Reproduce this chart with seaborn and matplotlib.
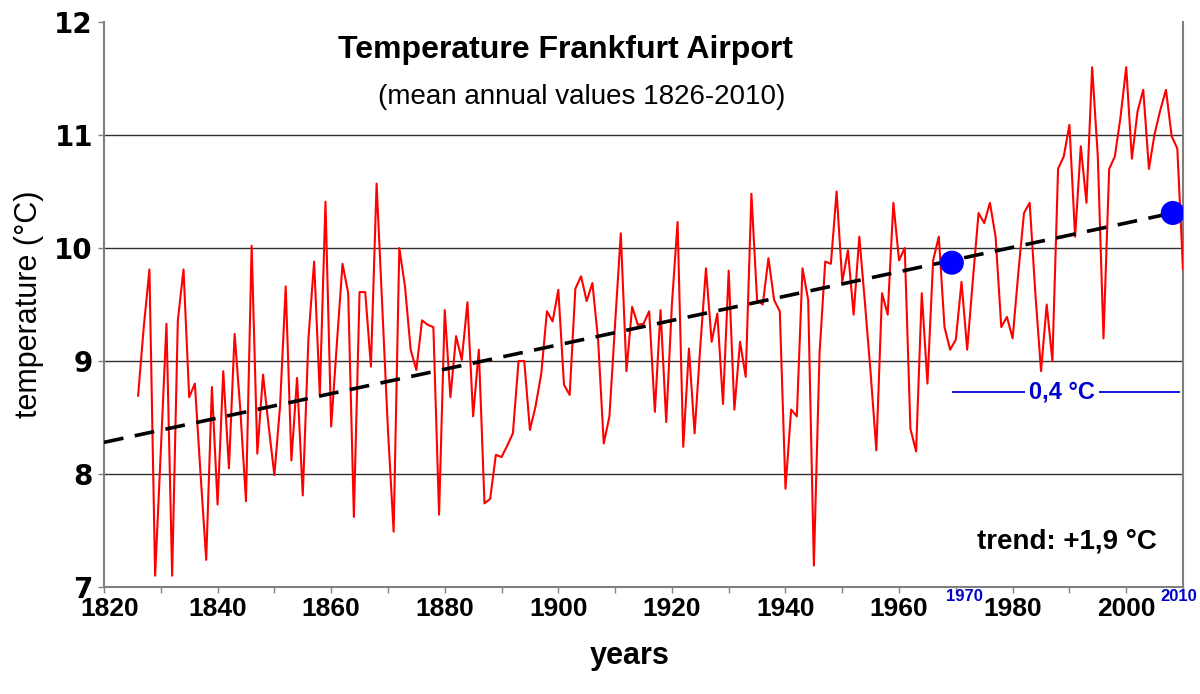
"""
Frankfurt Airport mean annual temperature 1826-2010 with linear trend.
"""

import matplotlib
matplotlib.use("Agg")
import matplotlib.pyplot as plt
import matplotlib.transforms as mtransforms
import pandas as pd
import seaborn as sns
from matplotlib import font_manager

# ── Data ──────────────────────────────────────────────────────────────────────

years = list(range(1826, 2011))
temps = [
    8.69, 9.30, 9.81, 7.10,                                             # 1826-1829
    8.20, 9.33, 7.10, 9.36, 9.81, 8.68, 8.80, 8.00, 7.24, 8.77,         # 1830s
    7.73, 8.91, 8.05, 9.24, 8.57, 7.76, 10.02, 8.18, 8.88, 8.42,        # 1840s
    7.99, 8.60, 9.66, 8.12, 8.85, 7.81, 9.20, 9.88, 8.70, 10.41,        # 1850s
    8.42, 9.15, 9.86, 9.60, 7.62, 9.61, 9.61, 8.95, 10.57, 9.48,        # 1860s
    8.39, 7.49, 10.00, 9.66, 9.10, 8.92, 9.36, 9.32, 9.30, 7.64,        # 1870s
    9.45, 8.68, 9.22, 9.01, 9.52, 8.51, 9.10, 7.74, 7.78, 8.17,         # 1880s
    8.15, 8.25, 8.36, 9.00, 9.00, 8.39, 8.60, 8.89, 9.44, 9.35,         # 1890s
    9.63, 8.79, 8.70, 9.64, 9.75, 9.53, 9.69, 9.19, 8.27, 8.51,         # 1900s
    9.33, 10.13, 8.91, 9.48, 9.32, 9.33, 9.44, 8.55, 9.45, 8.46,        # 1910s
    9.50, 10.23, 8.24, 9.11, 8.36, 9.13, 9.82, 9.17, 9.42, 8.62,        # 1920s
    9.80, 8.57, 9.17, 8.86, 10.48, 9.54, 9.50, 9.91, 9.54, 9.44,        # 1930s
    7.87, 8.57, 8.51, 9.82, 9.54, 7.19, 9.07, 9.88, 9.86, 10.50,        # 1940s
    9.70, 9.98, 9.41, 10.10, 9.51, 8.89, 8.21, 9.60, 9.41, 10.40,       # 1950s
    9.89, 10.00, 8.40, 8.20, 9.60, 8.80, 9.89, 10.10, 9.30, 9.10,       # 1960s
    9.19, 9.70, 9.10, 9.72, 10.31, 10.22, 10.40, 10.10, 9.30, 9.39,     # 1970s
    9.20, 9.78, 10.31, 10.40, 9.60, 8.91, 9.50, 9.00, 10.70, 10.81,     # 1980s
    11.09, 10.10, 10.90, 10.40, 11.60, 10.81, 9.20, 10.70, 10.81, 11.16,  # 1990s
    11.60, 10.79, 11.21, 11.40, 10.70, 11.01, 11.22, 11.40, 10.99, 10.88, # 2000s
    9.81,                                                               # 2010
]

trend_years = [1820, 2008.2]
trend_temps = [8.28, 10.31]

dot_years = [1969.3, 2008.2]
dot_temps = [9.87, 10.31]

span_years = [1969.3, 2009.5]
span_temp = 8.73
span_label = "0,4 °C"

grid_levels = [8, 9, 10, 11]
y_ticks = [7, 8, 9, 10, 11, 12]
x_ticks = list(range(1820, 2011, 10))
black_labels = [1820, 1840, 1860, 1880, 1900, 1920, 1940, 1960, 1980, 2000]
blue_labels = [1970, 2010]
blue_label_pos = [1971.6, 2009.2]

df = pd.DataFrame({"year": years, "temp": temps})
trend = pd.DataFrame({"year": trend_years, "temp": trend_temps})
dots = pd.DataFrame({"year": dot_years, "temp": dot_temps})

# ── Style ─────────────────────────────────────────────────────────────────────

sns.set_theme(style="white")
plt.rcParams["font.family"] = ["Liberation Sans", "DejaVu Sans"]
plt.rcParams.update({"text.color": "black", "axes.labelcolor": "black",
                     "xtick.color": "black", "ytick.color": "black"})

installed = {f.name for f in font_manager.fontManager.ttflist}
NARROW = ["Liberation Sans Narrow", "Liberation Sans", "DejaVu Sans"]
if "Liberation Sans Narrow" not in installed:
    NARROW = ["Liberation Sans", "DejaVu Sans"]

BLUE_TXT = "#0000CC"
AXIS_GREY = "#808080"

# ── Plot ──────────────────────────────────────────────────────────────────────

fig = plt.figure(figsize=(12, 6.94), dpi=100)
ax = fig.add_axes([104 / 1200, 1 - 587 / 694, 1079 / 1200, 565 / 694])

ax.hlines(grid_levels, 1820, 2010, colors="#303030", linewidth=1.0, zorder=1)

sns.lineplot(data=df, x="year", y="temp", color="#FF0000", linewidth=1.5,
             ax=ax, zorder=3)
sns.lineplot(data=trend, x="year", y="temp", color="black", linewidth=2.6,
             linestyle=(0, (5.5, 3.2)), ax=ax, zorder=4)
sns.scatterplot(data=dots, x="year", y="temp", color="#0000FF", s=300,
                edgecolor="none", ax=ax, zorder=5)

# 0,4 °C span marker
ax.hlines(span_temp, span_years[0], span_years[1], colors="#0000DD",
          linewidth=1.3, zorder=4)
ax.text(sum(span_years) / 2 - 0.7, span_temp, span_label, color=BLUE_TXT,
        fontsize=17, fontweight="bold", ha="center", va="center", zorder=6,
        bbox=dict(facecolor="white", edgecolor="none", pad=3))

# axes
ax.set_xlim(1820, 2010)
ax.set_ylim(7, 12)
ax.set_xticks(x_ticks)
ax.set_xticklabels([str(x) if x in black_labels else "" for x in x_ticks])
ax.set_yticks(y_ticks)
ax.set_yticklabels([str(v) for v in y_ticks])

ax.tick_params(axis="both", direction="out", length=4.5, width=1,
               color=AXIS_GREY, bottom=True, left=True)
ax.tick_params(axis="y", labelsize=20, pad=3.5)
ax.tick_params(axis="x", labelsize=19, pad=3)
for lbl in ax.get_yticklabels():
    lbl.set_fontweight("bold")
    lbl.set_family(["DejaVu Sans"])
for lbl in ax.get_xticklabels():
    lbl.set_fontweight("bold")
    lbl.set_family(NARROW)

# the first year label sits a little to the right, clear of the "7"
first = ax.xaxis.get_major_ticks()[0].label1
first.set_transform(first.get_transform() +
                    mtransforms.ScaledTranslation(0.06, 0, fig.dpi_scale_trans))

# blue year labels under the two trend points
xform = ax.get_xaxis_transform()
for pos, lab in zip(blue_label_pos, blue_labels):
    ax.text(pos, -0.017, str(lab), transform=xform, color=BLUE_TXT,
            fontsize=12, fontweight="bold", family=NARROW,
            ha="center", va="center")

for side in ["left", "bottom", "right"]:
    ax.spines[side].set_color(AXIS_GREY)
    ax.spines[side].set_linewidth(1.5)
ax.spines["top"].set_visible(False)

ax.set_xlabel("years", fontsize=22, fontweight="bold", family=NARROW)
ax.xaxis.set_label_coords(0.4875, -0.095)
ax.set_ylabel("temperature (°C)", fontsize=22)
ax.yaxis.set_label_coords(-0.0556, 0.5)

# titles and annotation
ax.text(0.428, 0.950, "Temperature Frankfurt Airport", transform=ax.transAxes,
        fontsize=23, fontweight="bold", ha="center", va="center")
ax.text(0.443, 0.867, "(mean annual values 1826-2010)", transform=ax.transAxes,
        fontsize=20, ha="center", va="center")
ax.text(0.976, 0.081, "trend: +1,9 °C", transform=ax.transAxes,
        fontsize=20, fontweight="bold", ha="right", va="center")

fig.savefig("out.png", dpi=100)
plt.close(fig)
